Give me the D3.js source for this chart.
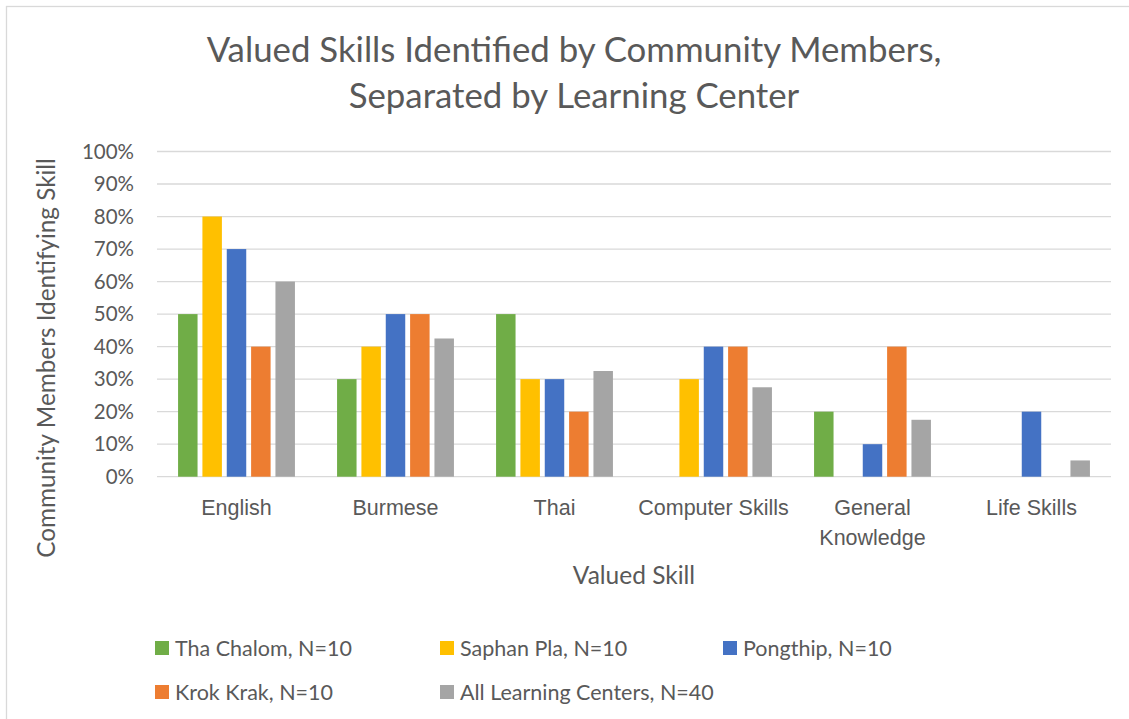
<!DOCTYPE html>
<head>
  <meta charset="utf-8">
  <title>Valued Skills</title>
  <style>
    body { margin: 0; background: #fff; }
    svg { display: block; font-family: Lato, "Open Sans", sans-serif; }
    .tick text { fill: #595959; }
  </style>
</head>
<body>
  <div id="chart"></div>
  <script src="https://cdnjs.cloudflare.com/ajax/libs/d3/7.8.5/d3.min.js"></script>
  <script type="text/javascript">

    const skills = ["English", "Burmese", "Thai", "Computer Skills", "General Knowledge", "Life Skills"];
    const centers = ["Tha Chalom, N=10", "Saphan Pla, N=10", "Pongthip, N=10", "Krok Krak, N=10", "All Learning Centers, N=40"];
    const colors = ["#70ad47", "#ffc000", "#4472c4", "#ed7d31", "#a5a5a5"];

    // one row per learning center, values in percent, same order as skills
    const thaChalom = [50, 30, 50, 0, 20, 0];
    const saphanPla = [80, 40, 30, 30, 0, 0];
    const pongthip  = [70, 50, 30, 40, 10, 20];
    const krokKrak  = [40, 50, 20, 40, 40, 0];
    const allCenters = [60, 42.5, 32.5, 27.5, 17.5, 5];
    const series = [thaChalom, saphanPla, pongthip, krokKrak, allCenters];

    const yTicks = [0, 10, 20, 30, 40, 50, 60, 70, 80, 90, 100];

    const W = 1129, H = 719;
    const plotL = 157, plotR = 1111, plotT = 151.5, plotB = 476.7;
    const textColor = "#595959";

    const svg = d3.select("#chart").append("svg")
      .attr("width", W)
      .attr("height", H);

    // chart frame
    svg.append("rect")
      .attr("x", 6.5).attr("y", 6.5)
      .attr("width", W + 10).attr("height", H + 10)
      .attr("fill", "#fff")
      .attr("stroke", "#d9d9d9")
      .attr("stroke-width", 1.3);

    const x0 = d3.scaleBand().domain(skills).range([plotL, plotR]).paddingInner(0.265).paddingOuter(0.1325);
    const x1 = d3.scaleBand().domain(d3.range(centers.length)).range([0, x0.bandwidth()]).paddingInner(0.2);
    const y = d3.scaleLinear().domain([0, 100]).range([plotB, plotT]);

    // gridlines
    svg.append("g")
      .selectAll("line")
      .data(yTicks)
      .join("line")
        .attr("x1", plotL).attr("x2", plotR)
        .attr("y1", d => y(d)).attr("y2", d => y(d))
        .attr("stroke", "#d9d9d9")
        .attr("stroke-width", 1.3);

    // y axis labels
    const yAxis = svg.append("g")
      .attr("transform", "translate(" + (plotL - 23) + ",0)")
      .call(d3.axisLeft(y).tickValues(yTicks).tickFormat(d => d + "%").tickSize(0).tickPadding(0));
    yAxis.select(".domain").remove();
    yAxis.selectAll("text").attr("font-size", 20.5).attr("font-family", "Lato, sans-serif");

    // bars
    svg.append("g")
      .selectAll("g")
      .data(series)
      .join("g")
        .attr("fill", (d, i) => colors[i])
      .each(function(vals, i) {
        d3.select(this).selectAll("rect")
          .data(vals)
          .join("rect")
            .attr("x", (v, j) => x0(skills[j]) + x1(i))
            .attr("width", x1.bandwidth())
            .attr("y", v => y(v))
            .attr("height", v => y(0) - y(v));
      });

    // category labels
    const xAxis = svg.append("g")
      .attr("transform", "translate(0," + plotB + ")")
      .call(d3.axisBottom(x0).tickSize(0).tickPadding(0));
    xAxis.select(".domain").remove();
    xAxis.selectAll("text").remove();
    xAxis.selectAll(".tick").each(function(d) {
      const t = d3.select(this).append("text")
        .attr("fill", textColor)
        .attr("font-size", 21.5)
        .attr("text-anchor", "middle");
      const lines = d === "General Knowledge" ? ["General", "Knowledge"] : [d];
      lines.forEach((s, k) => t.append("tspan").attr("x", 0).attr("y", 38 + k * 30).text(s));
    });

    // title
    const title = svg.append("text")
      .attr("text-anchor", "middle")
      .attr("fill", textColor)
      .attr("font-size", 34.8);
    title.append("tspan").attr("x", 574).attr("y", 62).text("Valued Skills Identified by Community Members,");
    title.append("tspan").attr("x", 574).attr("y", 108).text("Separated by Learning Center");

    // axis titles
    svg.append("text")
      .attr("x", 634).attr("y", 584)
      .attr("text-anchor", "middle")
      .attr("fill", textColor)
      .attr("font-size", 24.5)
      .text("Valued Skill");

    svg.append("text")
      .attr("transform", "translate(55,358) rotate(-90)")
      .attr("text-anchor", "middle")
      .attr("fill", textColor)
      .attr("font-size", 24.3)
      .text("Community Members Identifying Skill");

    // legend
    const legendX = [155, 440, 723];
    const legendY = [648, 692];
    const legend = svg.append("g")
      .selectAll("g")
      .data(centers)
      .join("g")
        .attr("transform", (d, i) => "translate(" + legendX[i % 3] + "," + legendY[Math.floor(i / 3)] + ")");
    legend.append("rect")
      .attr("x", 0).attr("y", -7)
      .attr("width", 14).attr("height", 14)
      .attr("fill", (d, i) => colors[i]);
    legend.append("text")
      .attr("x", 20).attr("y", 7.5)
      .attr("fill", textColor)
      .attr("font-size", 21.5)
      .text(d => d);

  </script>
</body>
